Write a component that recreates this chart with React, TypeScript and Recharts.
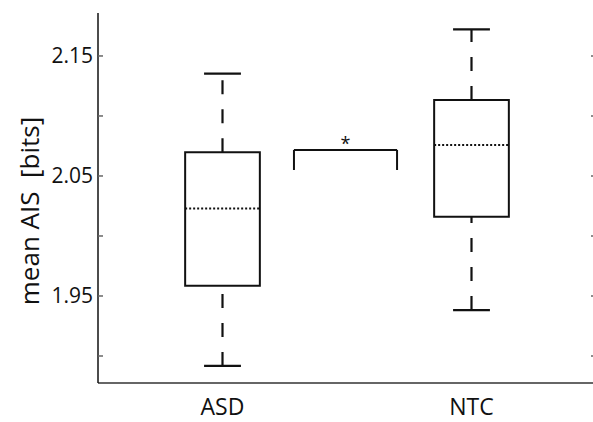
import React from 'react';
import {
  ComposedChart,
  XAxis,
  YAxis,
  Scatter,
  ReferenceArea,
  ReferenceLine,
  ReferenceDot,
} from 'recharts';

// ---- data ----
const categories = ['ASD', 'NTC'];
const positions = [1, 2];
const whiskerLow = [1.8917, 1.9383];
const q1 = [1.9586, 2.0161];
const median = [2.0228, 2.0758];
const q3 = [2.0697, 2.1133];
const whiskerHigh = [2.1353, 2.1722];

const yTicks = [1.9, 1.95, 2.0, 2.05, 2.1, 2.15];
const yTickLabels = ['', '1.95', '', '2.05', '', '2.15'];
const yDomain = [1.8775, 2.1858];
const xDomain = [0.5, 2.5];

// significance bracket
const bracketX = [1.287, 1.701];
const bracketTop = 2.0717;
const bracketBottom = 2.055;
const sigLabel = '*';

const yLabel = 'mean AIS  [bits]';

const boxHalf = 0.15;
const capHalf = 0.074;

const rows = positions.map((p, i) => ({ pos: p, name: categories[i], med: median[i] }));

const FONT = '"Open Sans", "DejaVu Sans", sans-serif';
const INK = '#111';
const AXIS_GRAY = '#666';

export default function App() {
  return (
    <div
      style={{
        position: 'absolute',
        left: 0,
        top: 0,
        width: 593,
        height: 422,
        overflow: 'hidden',
        background: '#fff',
      }}
    >
      <ComposedChart
        width={600}
        height={422}
        data={rows}
        margin={{ top: 13, right: 0, bottom: 0, left: 0 }}
      >
        <XAxis
          xAxisId="x"
          dataKey="pos"
          type="number"
          domain={xDomain}
          allowDataOverflow
          ticks={positions}
          tickFormatter={(v: number) => categories[positions.indexOf(v)] ?? ''}
          height={39}
          tickLine={false}
          tickSize={0}
          tickMargin={16}
          axisLine={{ stroke: AXIS_GRAY, strokeWidth: 2 }}
          tick={{ fill: INK, fontSize: 23, fontFamily: FONT }}
        />
        <XAxis
          xAxisId="top"
          orientation="top"
          dataKey="pos"
          type="number"
          domain={xDomain}
          allowDataOverflow
          height={0}
          tick={false}
          tickLine={false}
          axisLine={{ stroke: AXIS_GRAY, strokeWidth: 2 }}
        />
        <YAxis
          yAxisId="left"
          type="number"
          domain={yDomain}
          allowDataOverflow
          ticks={yTicks}
          interval={0}
          tickFormatter={(v: number) => {
            const idx = yTicks.findIndex((t) => Math.abs(t - v) < 1e-9);
            return idx >= 0 ? yTickLabels[idx] : '';
          }}
          width={98}
          tickSize={-5}
          tickMargin={10}
          tickLine={{ stroke: AXIS_GRAY, strokeWidth: 1.5 }}
          axisLine={{ stroke: INK, strokeWidth: 1.5 }}
          tick={{ fill: INK, fontSize: 21, fontFamily: FONT }}
          label={{
            value: yLabel,
            content: () => (
              <text
                x={39}
                y={211}
                transform="rotate(-90, 39, 211)"
                textAnchor="middle"
                fill={INK}
                fontSize={26}
                fontFamily={FONT}
                style={{ whiteSpace: 'pre' }}
              >
                {yLabel}
              </text>
            ),
          }}
        />
        <YAxis
          yAxisId="right"
          orientation="right"
          type="number"
          domain={yDomain}
          allowDataOverflow
          ticks={yTicks}
          interval={0}
          tickFormatter={() => ''}
          width={4}
          tickSize={-5}
          tickLine={{ stroke: AXIS_GRAY, strokeWidth: 1.5 }}
          axisLine={{ stroke: INK, strokeWidth: 1.5 }}
        />

        <Scatter
          xAxisId="x"
          yAxisId="left"
          dataKey="med"
          isAnimationActive={false}
          shape={() => <g />}
        />

        {positions.map((p, i) => (
          <ReferenceArea
            key={`box-${i}`}
            xAxisId="x"
            yAxisId="left"
            x1={p - boxHalf}
            x2={p + boxHalf}
            y1={q1[i]}
            y2={q3[i]}
            stroke={INK}
            strokeWidth={2}
            fill="none"
            fillOpacity={0}
            ifOverflow="visible"
          />
        ))}
        {positions.map((p, i) => (
          <ReferenceLine
            key={`med-${i}`}
            xAxisId="x"
            yAxisId="left"
            segment={[
              { x: p - boxHalf, y: median[i] },
              { x: p + boxHalf, y: median[i] },
            ]}
            stroke={INK}
            strokeWidth={2}
            strokeDasharray="2 2"
            ifOverflow="visible"
          />
        ))}
        {positions.map((p, i) => (
          <ReferenceLine
            key={`wl-${i}`}
            xAxisId="x"
            yAxisId="left"
            segment={[
              { x: p, y: whiskerLow[i] },
              { x: p, y: q1[i] },
            ]}
            stroke={INK}
            strokeWidth={2.2}
            strokeDasharray="14 15"
            ifOverflow="visible"
          />
        ))}
        {positions.map((p, i) => (
          <ReferenceLine
            key={`wh-${i}`}
            xAxisId="x"
            yAxisId="left"
            segment={[
              { x: p, y: q3[i] },
              { x: p, y: whiskerHigh[i] },
            ]}
            stroke={INK}
            strokeWidth={2.2}
            strokeDasharray="14 15"
            ifOverflow="visible"
          />
        ))}
        {positions.map((p, i) => (
          <ReferenceLine
            key={`cl-${i}`}
            xAxisId="x"
            yAxisId="left"
            segment={[
              { x: p - capHalf, y: whiskerLow[i] },
              { x: p + capHalf, y: whiskerLow[i] },
            ]}
            stroke={INK}
            strokeWidth={2.2}
            ifOverflow="visible"
          />
        ))}
        {positions.map((p, i) => (
          <ReferenceLine
            key={`ch-${i}`}
            xAxisId="x"
            yAxisId="left"
            segment={[
              { x: p - capHalf, y: whiskerHigh[i] },
              { x: p + capHalf, y: whiskerHigh[i] },
            ]}
            stroke={INK}
            strokeWidth={2.2}
            ifOverflow="visible"
          />
        ))}

        {/* significance bracket */}
        <ReferenceLine
          xAxisId="x"
          yAxisId="left"
          segment={[
            { x: bracketX[0], y: bracketTop },
            { x: bracketX[1], y: bracketTop },
          ]}
          stroke={INK}
          strokeWidth={2}
          ifOverflow="visible"
        />
        <ReferenceLine
          xAxisId="x"
          yAxisId="left"
          segment={[
            { x: bracketX[0], y: bracketBottom },
            { x: bracketX[0], y: bracketTop },
          ]}
          stroke={INK}
          strokeWidth={2}
          ifOverflow="visible"
        />
        <ReferenceLine
          xAxisId="x"
          yAxisId="left"
          segment={[
            { x: bracketX[1], y: bracketBottom },
            { x: bracketX[1], y: bracketTop },
          ]}
          stroke={INK}
          strokeWidth={2}
          ifOverflow="visible"
        />
        <ReferenceDot
          xAxisId="x"
          yAxisId="left"
          x={(bracketX[0] + bracketX[1]) / 2}
          y={bracketTop}
          r={0}
          fill="none"
          stroke="none"
          ifOverflow="visible"
          label={{
            value: sigLabel,
            position: 'center',
            dy: -6,
            fill: INK,
            fontSize: 18,
            fontFamily: FONT,
          }}
        />
      </ComposedChart>
    </div>
  );
}
